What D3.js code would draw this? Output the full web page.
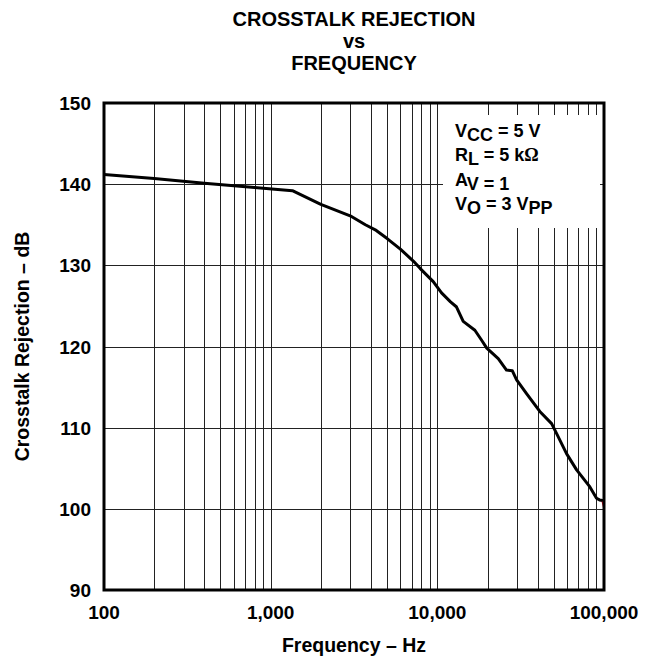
<!DOCTYPE html>
<html>
<head>
<meta charset="UTF-8">
<title>Crosstalk Rejection vs Frequency</title>
<script src="https://cdn.jsdelivr.net/npm/d3@7"></script>
<style>
html, body { margin: 0; padding: 0; background: #fff; }
svg { display: block; font-family: "Liberation Sans", Arial, sans-serif; font-weight: bold; }
</style>
</head>
<body>
<script>
// values
var freq = [100, 200, 400, 800, 1350, 2000, 3000, 3700, 4300, 5000, 6000, 7200, 7900, 9450,
            10600, 12000, 13000, 14300, 16800, 18400, 19800, 23200, 26000, 28200, 29900,
            34300, 41200, 48500, 51900, 59600, 68500, 82300, 90200, 94000, 100000];
var rejection = [141.2, 140.7, 140.1, 139.6, 139.2, 137.5, 136.1, 135, 134.3, 133.3, 132, 130.5, 129.6, 128,
                 126.6, 125.5, 124.9, 123.1, 122, 120.8, 119.8, 118.5, 117.1, 117.0, 115.9,
                 114.2, 112, 110.5, 109.3, 106.8, 104.8, 102.7, 101.3, 101.1, 101.0];
var tailFreq = [98000, 100000];
var tailVal = [100.9, 100.2];

var xTicks = [100, 1000, 10000, 100000];
var xTickLabels = ["100", "1,000", "10,000", "100,000"];
var yTicks = [90, 100, 110, 120, 130, 140, 150];

var width = 653, height = 662;
var plotL = 104, plotR = 604, plotT = 103, plotB = 590;

var svg = d3.select("body").append("svg")
    .attr("width", width)
    .attr("height", height);

var x = d3.scaleLog().domain([100, 100000]).range([plotL, plotR]);
var y = d3.scaleLinear().domain([90, 150]).range([plotB, plotT]);

// grid
var minor = [];
[100, 1000, 10000].forEach(function(d) {
    for (var k = 2; k <= 9; k++) minor.push(d * k);
});
minor = minor.concat([1000, 10000]);

var grid = svg.append("g");
grid.selectAll("line.v")
    .data(minor)
    .enter().append("line")
    .attr("x1", function(d) { return Math.round(x(d)) + 0.5; })
    .attr("x2", function(d) { return Math.round(x(d)) + 0.5; })
    .attr("y1", plotT).attr("y2", plotB)
    .attr("stroke", "#222").attr("stroke-width", 1);

grid.selectAll("line.h")
    .data(yTicks.slice(1, -1))
    .enter().append("line")
    .attr("x1", plotL).attr("x2", plotR)
    .attr("y1", function(d) { return Math.round(y(d)) + 0.5; })
    .attr("y2", function(d) { return Math.round(y(d)) + 0.5; })
    .attr("stroke", "#222").attr("stroke-width", 1);

// legend box hides the grid
svg.append("rect")
    .attr("x", 443).attr("y", 115)
    .attr("width", 157).attr("height", 113)
    .attr("fill", "#fff");

// curve
var line = d3.line()
    .x(function(d) { return x(d[0]); })
    .y(function(d) { return y(d[1]); });

svg.append("path")
    .datum(d3.zip(freq, rejection))
    .attr("d", line)
    .attr("fill", "none")
    .attr("stroke", "#000")
    .attr("stroke-width", 3)
    .attr("stroke-linejoin", "round");

svg.append("path")
    .datum(d3.zip(tailFreq, tailVal))
    .attr("d", line)
    .attr("fill", "none")
    .attr("stroke", "#d0001a")
    .attr("stroke-width", 2);

// frame
svg.append("rect")
    .attr("x", plotL).attr("y", plotT)
    .attr("width", plotR - plotL).attr("height", plotB - plotT)
    .attr("fill", "none")
    .attr("stroke", "#000")
    .attr("stroke-width", 3);

// axes labels
svg.selectAll("text.xt")
    .data(xTicks)
    .enter().append("text")
    .attr("x", function(d) { return x(d); })
    .attr("y", 619)
    .attr("text-anchor", "middle")
    .attr("font-size", 19)
    .text(function(d, i) { return xTickLabels[i]; });

svg.selectAll("text.yt")
    .data(yTicks)
    .enter().append("text")
    .attr("x", 91)
    .attr("y", function(d) { return y(d) + 7; })
    .attr("text-anchor", "end")
    .attr("font-size", 19)
    .text(function(d) { return d; });

svg.append("text")
    .attr("x", (plotL + plotR) / 2)
    .attr("y", 652)
    .attr("text-anchor", "middle")
    .attr("font-size", 19.5)
    .text("Frequency – Hz");

svg.append("text")
    .attr("transform", "translate(29," + ((plotT + plotB) / 2) + ") rotate(-90)")
    .attr("text-anchor", "middle")
    .attr("font-size", 19.5)
    .text("Crosstalk Rejection – dB");

// title
var title = ["CROSSTALK REJECTION", "vs", "FREQUENCY"];
svg.selectAll("text.title")
    .data(title)
    .enter().append("text")
    .attr("x", (plotL + plotR) / 2)
    .attr("y", function(d, i) { return 26 + i * 22; })
    .attr("text-anchor", "middle")
    .attr("font-size", 20)
    .text(function(d) { return d; });

// conditions
var leg = svg.append("g").attr("font-size", 18);
function cond(yy, parts) {
    var t = leg.append("text").attr("x", 455).attr("y", yy);
    parts.forEach(function(p) {
        t.append("tspan")
            .attr("dy", p[1])
            .attr("font-family", p[2] || null)
            .text(p[0]);
    });
}
cond(137, [["V", 0], ["CC", 4], [" = 5 V", -4]]);
cond(161, [["R", 0], ["L", 4], [" = 5 k", -4], ["Ω", 0, "Liberation Serif"]]);
cond(186, [["A", 0], ["V = 1", 4]]);
cond(210, [["V", 0], ["O", 4], [" = 3 V", -4], ["PP", 4]]);
</script>
</body>
</html>
